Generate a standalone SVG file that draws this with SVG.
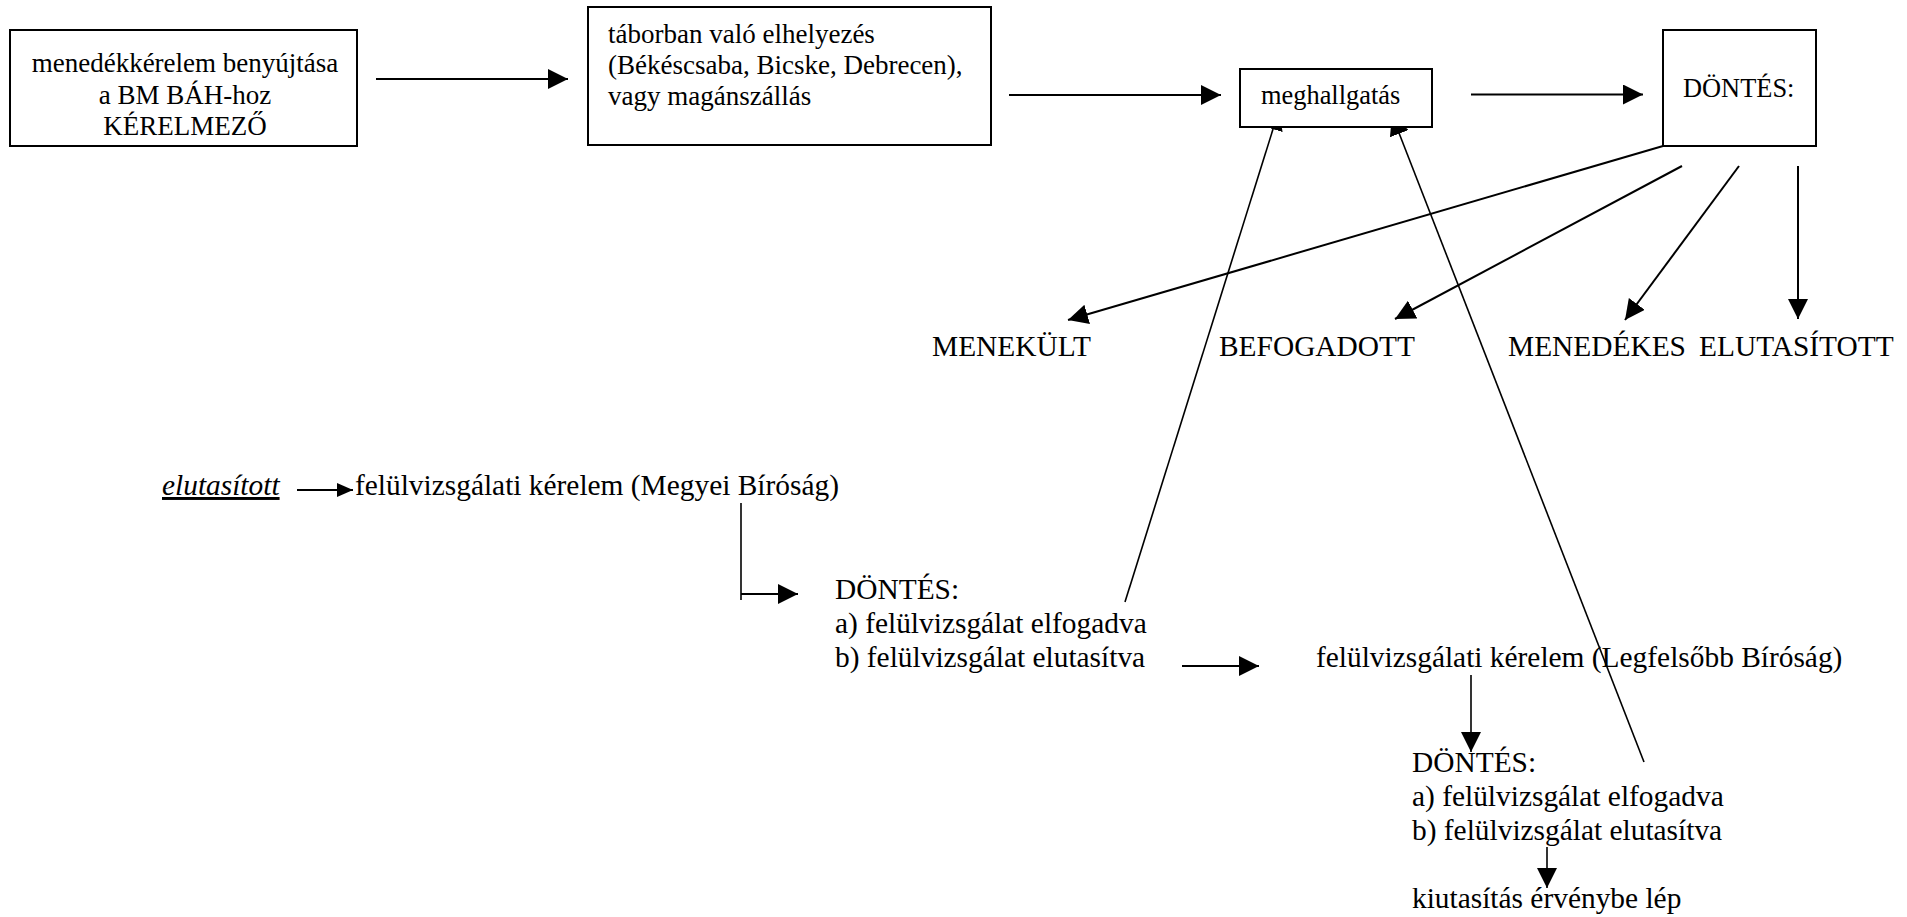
<svg xmlns="http://www.w3.org/2000/svg" width="1907" height="917" viewBox="0 0 1907 917" font-family="'Liberation Serif', 'Times New Roman', 'DejaVu Serif', serif">
<style>
text{fill:#000}
.bx{fill:#fff;stroke:#000;stroke-width:2}
.t27{font-size:27px}
.t26{font-size:26.4px}
.t29{font-size:29.4px}
.c{stroke:#000;stroke-width:2;fill:none}
.thin{stroke:#000;stroke-width:1.6;fill:none}
</style>
<defs>
<marker id="ah" markerUnits="userSpaceOnUse" markerWidth="20" markerHeight="20" refX="20" refY="10" orient="auto" viewBox="0 0 20 20">
<path d="M0,0 L20,10 L0,20 Z" fill="#000"/>
</marker>
<marker id="ahs" markerUnits="userSpaceOnUse" markerWidth="16" markerHeight="14" refX="16" refY="7" orient="auto" viewBox="0 0 16 14">
<path d="M0,0 L16,7 L0,14 Z" fill="#000"/>
</marker>
</defs>
<rect width="1907" height="917" fill="#fff"/>

<g id="connectors">
<line class="c" x1="376" y1="79" x2="568" y2="79" marker-end="url(#ah)"/>
<line class="c" x1="1009" y1="95" x2="1221" y2="95" marker-end="url(#ah)"/>
<line class="c" x1="1471" y1="94.5" x2="1643" y2="94.5" marker-end="url(#ah)"/>
<line class="c" x1="1663" y1="146" x2="1068" y2="320" marker-end="url(#ah)"/>
<line class="c" x1="1682" y1="166" x2="1395" y2="319" marker-end="url(#ah)"/>
<line class="c" x1="1739" y1="166" x2="1625" y2="320" marker-end="url(#ah)"/>
<line class="c" x1="1798" y1="166" x2="1798" y2="319" marker-end="url(#ah)"/>
<line class="thin" x1="1125" y1="602" x2="1279" y2="110" marker-end="url(#ah)"/>
<line class="thin" x1="1644" y1="762" x2="1392" y2="115" marker-end="url(#ah)"/>
<line class="c" x1="297" y1="490" x2="353" y2="490" marker-end="url(#ahs)"/>
<path class="thin" d="M741,503 V600"/>
<line class="c" x1="741" y1="594" x2="798" y2="594" marker-end="url(#ah)"/>
<line class="c" x1="1182" y1="666" x2="1259" y2="666" marker-end="url(#ah)"/>
<line class="thin" x1="1471" y1="675" x2="1471" y2="752" marker-end="url(#ah)"/>
<line class="thin" x1="1547" y1="847" x2="1547" y2="888" marker-end="url(#ah)"/>
</g>

<g id="kerelem">
<rect class="bx" x="10" y="30" width="347" height="116"/>
<text class="t27" text-anchor="middle"><tspan x="185" y="72">menedékkérelem benyújtása</tspan><tspan x="185" y="104">a BM BÁH-hoz</tspan><tspan x="185" y="135">KÉRELMEZŐ</tspan></text>
</g>

<g id="tabor">
<rect class="bx" x="588" y="7" width="403" height="138"/>
<text class="t27"><tspan x="608" y="43">táborban való elhelyezés</tspan><tspan x="608" y="74">(Békéscsaba, Bicske, Debrecen),</tspan><tspan x="608" y="105">vagy magánszállás</tspan></text>
</g>

<g id="meghallgatas">
<rect class="bx" x="1240" y="69" width="192" height="58"/>
<text class="t26" x="1261" y="104">meghallgatás</text>
</g>

<g id="dontes">
<rect class="bx" x="1663" y="30" width="153" height="116"/>
<text class="t26" x="1683" y="97">DÖNTÉS:</text>
</g>

<g id="menekult"><text class="t29" x="932" y="356">MENEKÜLT</text></g>
<g id="befogadott"><text class="t29" x="1219" y="356">BEFOGADOTT</text></g>
<g id="menedekes"><text class="t29" x="1508" y="356">MENEDÉKES</text></g>
<g id="elutasitott-label"><text class="t29" x="1699" y="356">ELUTASÍTOTT</text></g>

<g id="elutasitott"><text class="t29" x="162" y="495" font-style="italic" text-decoration="underline">elutasított</text></g>
<g id="megyei"><text class="t29" x="355" y="495">felülvizsgálati kérelem (Megyei Bíróság)</text></g>

<g id="dontes1">
<text class="t29"><tspan x="835" y="599">DÖNTÉS:</tspan><tspan x="835" y="633">a) felülvizsgálat elfogadva</tspan><tspan x="835" y="667">b) felülvizsgálat elutasítva</tspan></text>
</g>

<g id="legfelsobb"><text class="t29" x="1316" y="667">felülvizsgálati kérelem (Legfelsőbb Bíróság)</text></g>

<g id="dontes2">
<text class="t29"><tspan x="1412" y="772">DÖNTÉS:</tspan><tspan x="1412" y="806">a) felülvizsgálat elfogadva</tspan><tspan x="1412" y="840">b) felülvizsgálat elutasítva</tspan></text>
</g>

<g id="kiutasitas"><text class="t29" x="1412" y="908">kiutasítás érvénybe lép</text></g>
</svg>
